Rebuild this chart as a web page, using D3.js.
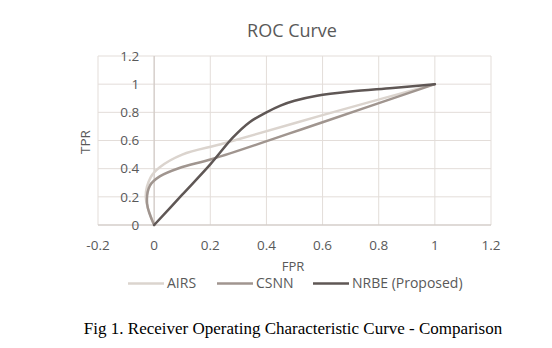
<!DOCTYPE html>
<html>
<head>
<meta charset="utf-8">
<script src="https://cdn.jsdelivr.net/npm/d3@7"></script>
<style>
    body { margin: 0; background: #fff; }
    svg { display: block; }
</style>
</head>
<body>
<svg id="chart" width="552" height="348"></svg>
<script>
//Data
let xTicks = [-0.2, 0, 0.2, 0.4, 0.6, 0.8, 1, 1.2];
let yTicks = [0, 0.2, 0.4, 0.6, 0.8, 1, 1.2];
let seriesNames = ["AIRS", "CSNN", "NRBE (Proposed)"];
let seriesColors = ["#dbd4ce", "#a0958f", "#5f5755"];

let fprAIRS = [0, -0.03, -0.012, 0.02, 0.1, 0.25, 0.6, 1];
let tprAIRS = [0, 0.2, 0.34, 0.41, 0.5, 0.58, 0.78, 1];
let fprCSNN = [0, -0.025, -0.015, 0.02, 0.09, 0.21, 0.6, 1];
let tprCSNN = [0, 0.15, 0.28, 0.345, 0.405, 0.47, 0.73, 1];
let fprNRBE = [0, 0.1, 0.2, 0.28, 0.34, 0.4, 0.45, 0.5, 0.58, 0.7, 0.85, 1];
let tprNRBE = [0, 0.215, 0.43, 0.62, 0.73, 0.8, 0.848, 0.882, 0.918, 0.948, 0.973, 1];

let fprAll = [fprAIRS, fprCSNN, fprNRBE];
let tprAll = [tprAIRS, tprCSNN, tprNRBE];

let svg = d3.select("#chart");
let font = "'Open Sans', 'Noto Sans', sans-serif";

//Plot area
let plotLeft = 98, plotRight = 491, plotTop = 56, plotBottom = 225;
let x = d3.scaleLinear().domain([-0.2, 1.2]).range([plotLeft, plotRight]);
let y = d3.scaleLinear().domain([0, 1.2]).range([plotBottom, plotTop]);

//Gridlines
svg.append("g")
    .selectAll("line")
    .data(yTicks)
    .enter().append("line")
    .attr("x1", plotLeft).attr("x2", plotRight)
    .attr("y1", d => y(d)).attr("y2", d => y(d))
    .attr("stroke", "#e3ddd9")
    .attr("stroke-width", 1);
svg.append("g")
    .selectAll("line")
    .data(xTicks)
    .enter().append("line")
    .attr("x1", d => x(d)).attr("x2", d => x(d))
    .attr("y1", plotTop).attr("y2", plotBottom)
    .attr("stroke", "#e3ddd9")
    .attr("stroke-width", 1);

//Axis lines crossing at zero
svg.append("line")
    .attr("x1", plotLeft).attr("x2", plotRight)
    .attr("y1", y(0)).attr("y2", y(0))
    .attr("stroke", "#cdc6c2");
svg.append("line")
    .attr("x1", x(0)).attr("x2", x(0))
    .attr("y1", plotTop).attr("y2", plotBottom)
    .attr("stroke", "#cdc6c2");

//Tick labels (plain hyphen for negatives, like the source)
let fmt = d => String(+d.toFixed(1));
svg.append("g")
    .selectAll("text")
    .data(yTicks)
    .enter().append("text")
    .attr("x", x(0) - 15)
    .attr("y", d => y(d))
    .attr("dy", "0.35em")
    .attr("text-anchor", "end")
    .attr("font-family", font)
    .attr("font-size", "13.5px")
    .attr("fill", "#595959")
    .text(fmt);
svg.append("g")
    .selectAll("text")
    .data(xTicks)
    .enter().append("text")
    .attr("x", d => x(d))
    .attr("y", plotBottom + 20)
    .attr("dy", "0.35em")
    .attr("text-anchor", "middle")
    .attr("font-family", font)
    .attr("font-size", "13.5px")
    .attr("fill", "#595959")
    .text(fmt);

//Curves
let line = d3.line()
    .x(d => x(d[0]))
    .y(d => y(d[1]))
    .curve(d3.curveCatmullRom.alpha(0.5));

svg.append("g")
    .selectAll("path")
    .data(seriesNames)
    .enter().append("path")
    .attr("d", (d, i) => line(fprAll[i].map((v, j) => [v, tprAll[i][j]])))
    .attr("fill", "none")
    .attr("stroke", (d, i) => seriesColors[i])
    .attr("stroke-width", 2.5)
    .attr("stroke-linejoin", "round")
    .attr("stroke-linecap", "round");

//Title and axis titles
svg.append("text")
    .attr("x", 292).attr("y", 31)
    .attr("dy", "0.35em")
    .attr("text-anchor", "middle")
    .attr("font-family", font)
    .attr("font-size", "18px")
    .attr("fill", "#595959")
    .text("ROC Curve");
svg.append("text")
    .attr("x", 293).attr("y", 266)
    .attr("dy", "0.35em")
    .attr("text-anchor", "middle")
    .attr("font-family", font)
    .attr("font-size", "13px")
    .attr("fill", "#595959")
    .text("FPR");
svg.append("text")
    .attr("transform", "translate(85,142) rotate(-90)")
    .attr("dy", "0.35em")
    .attr("text-anchor", "middle")
    .attr("font-family", font)
    .attr("font-size", "13.5px")
    .attr("fill", "#595959")
    .text("TPR");

//Legend
let legendX = [128, 217, 313];
let legend = svg.append("g")
    .selectAll("g")
    .data(seriesNames)
    .enter().append("g")
    .attr("transform", (d, i) => "translate(" + legendX[i] + ",283.5)");
legend.append("line")
    .attr("x1", 0).attr("x2", 36)
    .attr("stroke", (d, i) => seriesColors[i])
    .attr("stroke-width", 2.5);
legend.append("text")
    .attr("x", 39)
    .attr("dy", "0.35em")
    .attr("font-family", font)
    .attr("font-size", "14px")
    .attr("fill", "#595959")
    .text(d => d);

//Caption
svg.append("text")
    .attr("x", 293).attr("y", 328)
    .attr("dy", "0.35em")
    .attr("text-anchor", "middle")
    .attr("font-family", "'Liberation Serif', 'Times New Roman', serif")
    .attr("font-size", "17px")
    .attr("fill", "#000")
    .text("Fig 1. Receiver Operating Characteristic Curve - Comparison");
</script>
</body>
</html>
